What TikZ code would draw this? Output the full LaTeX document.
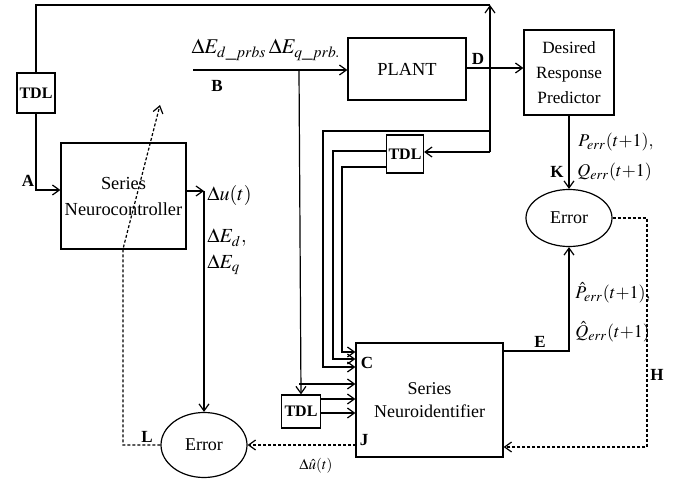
\documentclass[tikz,border=0pt]{standalone}
\usepackage{mathptmx}
\usepackage{fontspec}
\setmainfont{Liberation Serif}
\usetikzlibrary{arrows.meta,positioning,shapes.geometric,calc}
\tikzset{
  blockbox/.style={
    rectangle, draw, line width=0.6pt, align=center, inner sep=1pt,
    font=\fontsize{9.2}{13}\selectfont
  },
  tdlbox/.style={
    rectangle, draw, line width=0.6pt, inner sep=1pt,
    font=\bfseries\fontsize{8}{9}\selectfont
  },
  errnode/.style={
    ellipse, draw, line width=0.6pt, inner sep=0pt,
    minimum width=43pt, font=\fontsize{9}{10}\selectfont
  },
  sigline/.style={line width=0.6pt},
  sigarrow/.style={-{Straight Barb[length=3.5pt,width=5pt]}, line width=0.6pt},
  fbarrow/.style={dash pattern=on 1.5pt off 1pt, line width=0.6pt},
  tagnode/.style={font=\bfseries\fontsize{8.5}{9}\selectfont, inner sep=0pt},
  mathlabel/.style={font=\fontsize{9}{10}\selectfont, inner sep=0pt},
}

\begin{document}
\begin{tikzpicture}[x=0.5pt, y=-0.5pt]
  \useasboundingbox (0,0) rectangle (675,481);

  % blocks
  \node[tdlbox, minimum width=19pt, minimum height=20pt] (tdlA) at (36,93) {TDL};
  \node[blockbox, minimum width=62.5pt, minimum height=53pt] (nctrl) at (123.5,196)
    {Series\\Neurocontroller};
  \node[blockbox, minimum width=59pt, minimum height=31pt] (plant) at (407,69) {PLANT};
  \node[blockbox, minimum width=45pt, minimum height=42.5pt,
        font=\fontsize{8.6}{12.5}\selectfont] (drp) at (569,72.5)
    {Desired\\Response\\Predictor};
  \node[tdlbox, minimum width=18pt, minimum height=19pt] (tdlB) at (405,154) {TDL};
  \node[errnode, minimum height=28.5pt] (errR) at (569,218) {Error};
  \node[blockbox, minimum width=73.5pt, minimum height=57pt,
        font=\fontsize{9}{11.5}\selectfont] (nid) at (429.5,400)
    {Series\\Neuroidentifier};
  \node[tdlbox, minimum width=19.5pt, minimum height=16.5pt] (tdlC) at (301,411.5) {TDL};
  \node[errnode, minimum height=32.5pt] (errL) at (204,445) {Error};

  % junctions
  \coordinate (bin) at (193,70);
  \coordinate (bsplit) at (299,70);
  \coordinate (bturn) at (299,384);
  \coordinate (fbase) at (490,152);
  \coordinate (ftop) at (490,5);
  \coordinate (c1a) at (490,131);
  \coordinate (c1b) at (323,131);
  \coordinate (uout) at (204,191);
  \coordinate (lcorner) at (123,445);
  \coordinate (lbend) at (123,249);
  \coordinate (ltip) at (160,105);
  \coordinate (jpt) at (356,445);
  \coordinate (hcorner) at (647,218);

  % forward paths
  \draw[sigarrow] (tdlA.south) |- (nctrl.west |- 0,190);
  \draw[sigarrow] (nctrl.east |- uout) -- (uout);
  \draw[sigarrow] (uout) -- (errL.north);
  \draw[sigarrow] (bin) -- (plant.west |- bin);
  \draw[sigarrow] (plant.east |- 0,68) -- (drp.west |- 0,68);
  \draw[sigarrow] (bsplit) -- (tdlC.north);
  \draw[sigarrow] (bturn) -- (nid.west |- bturn);
  \draw[sigarrow] (tdlC.east |- 0,399) -- (nid.west |- 0,399);
  \draw[sigarrow] (tdlC.east |- 0,413) -- (nid.west |- 0,413);

  % plant output fed back
  \draw[sigarrow] (fbase) -- (ftop);
  \draw[sigline] (ftop) -| (tdlA.north);
  \draw[sigarrow] (fbase) -- (fbase -| tdlB.east);
  \draw[sigarrow] (c1a) -- (c1b) |- (nid.west |- 0,367);
  \draw[sigarrow] (tdlB.west |- 0,151) -- (333,151) |- (nid.west |- 0,359);
  \draw[sigarrow] (tdlB.west |- 0,167) -- (342,167) |- (nid.west |- 0,352);

  % identifier errors
  \draw[sigarrow] (drp.south) -- (errR.north);
  \draw[sigarrow] (nid.east |- 0,351) -| (errR.south);

  % training feedback
  \draw[fbarrow, -{Straight Barb[length=3.5pt,width=5pt]}] (errR.east) -- (hcorner) |- (nid.east |- 0,447);
  \draw[fbarrow, -{Straight Barb[length=3.5pt,width=5pt]}] (jpt) -- (errL.east);
  \draw[fbarrow, -{Straight Barb[length=3.5pt,width=5pt]}] (errL.west) -- (lcorner) -- (lbend) -- (ltip);

  % point tags
  \node[tagnode] (tagA) at (28,181) {A};
  \node[tagnode] (tagB) at (217,86) {B};
  \node[tagnode] (tagC) at (367,363) {C};
  \node[tagnode] (tagD) at (478,59) {D};
  \node[tagnode] (tagE) at (540,342) {E};
  \node[tagnode] (tagH) at (657,375) {H};
  \node[tagnode] (tagJ) at (364,440) {J};
  \node[tagnode] (tagK) at (557,172) {K};
  \node[tagnode] (tagL) at (147,437) {L};

  % signal labels
  \node[mathlabel, font=\fontsize{10.5}{12}\selectfont] (lblprbs) at (266,50)
    {$\Delta E_{d\_prbs}\,\Delta E_{q\_prb.}$};
  \node[mathlabel, font=\fontsize{10}{11}\selectfont, anchor=west] (lblu) at (207,195) {$\Delta u(t)$};
  \node[mathlabel, font=\fontsize{10}{11}\selectfont, anchor=west] (lbled) at (207,238) {$\Delta E_d,$};
  \node[mathlabel, font=\fontsize{10}{11}\selectfont, anchor=west] (lbleq) at (207,265) {$\Delta E_q$};
  \node[mathlabel, anchor=west] (lblp) at (578,142) {$P_{err}(t{+}1),$};
  \node[mathlabel, anchor=west] (lblq) at (577,172) {$Q_{err}(t{+}1)$};
  \node[mathlabel, anchor=west] (lblph) at (575,293) {$\hat{P}_{err}(t{+}1),$};
  \node[mathlabel, anchor=west] (lblqh) at (575,332) {$\hat{Q}_{err}(t{+}1)$};
  \node[mathlabel, font=\fontsize{7.5}{8}\selectfont] (lbluh) at (316,466) {$\Delta\hat{u}(t)$};
\end{tikzpicture}
\end{document}
